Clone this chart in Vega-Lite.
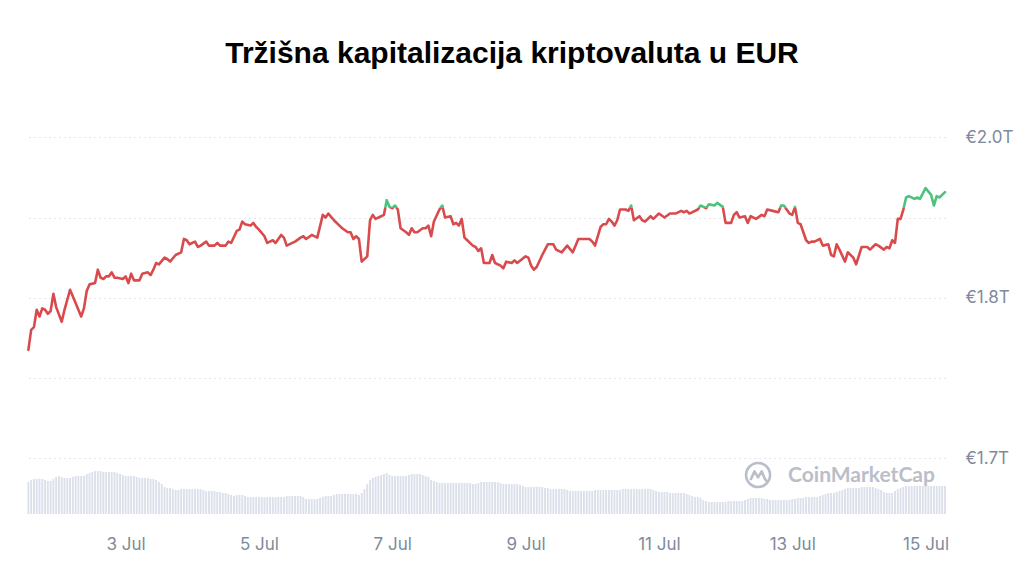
{
  "$schema": "https://vega.github.io/schema/vega-lite/v6.json",
  "width": 918,
  "height": 390,
  "autosize": {"type": "none"},
  "padding": {"left": 27, "top": 124, "right": 79, "bottom": 54},
  "background": "white",
  "title": {
    "text": "Tržišna kapitalizacija kriptovaluta u EUR",
    "font": "Liberation Sans",
    "fontSize": 30,
    "fontWeight": "bold",
    "color": "#000000",
    "anchor": "middle",
    "baseline": "alphabetic",
    "offset": 31,
    "dx": 26
  },
  "datasets": {
    "kap": [
      {"t":"2024-07-01T13:00","kap":1.801},{"t":"2024-07-01T14:00","kap":1.816},{"t":"2024-07-01T15:00","kap":1.818},
      {"t":"2024-07-01T16:00","kap":1.831},{"t":"2024-07-01T17:00","kap":1.826},{"t":"2024-07-01T18:00","kap":1.832},
      {"t":"2024-07-01T19:00","kap":1.831},{"t":"2024-07-01T20:00","kap":1.828},{"t":"2024-07-01T21:00","kap":1.830},
      {"t":"2024-07-01T22:00","kap":1.843},{"t":"2024-07-01T23:00","kap":1.833},{"t":"2024-07-02T01:00","kap":1.822},
      {"t":"2024-07-02T02:00","kap":1.831},{"t":"2024-07-02T04:00","kap":1.846},{"t":"2024-07-02T06:00","kap":1.836},
      {"t":"2024-07-02T08:00","kap":1.826},{"t":"2024-07-02T09:00","kap":1.832},{"t":"2024-07-02T10:00","kap":1.845},
      {"t":"2024-07-02T11:00","kap":1.850},{"t":"2024-07-02T13:00","kap":1.851},{"t":"2024-07-02T14:00","kap":1.861},
      {"t":"2024-07-02T15:00","kap":1.855},{"t":"2024-07-02T16:00","kap":1.854},{"t":"2024-07-02T17:00","kap":1.856},
      {"t":"2024-07-02T18:00","kap":1.856},{"t":"2024-07-02T19:00","kap":1.859},{"t":"2024-07-02T20:00","kap":1.855},
      {"t":"2024-07-02T21:00","kap":1.855},{"t":"2024-07-02T23:00","kap":1.854},{"t":"2024-07-03T00:00","kap":1.856},
      {"t":"2024-07-03T01:00","kap":1.851},{"t":"2024-07-03T02:00","kap":1.858},{"t":"2024-07-03T03:00","kap":1.853},
      {"t":"2024-07-03T05:00","kap":1.853},{"t":"2024-07-03T06:00","kap":1.858},{"t":"2024-07-03T08:00","kap":1.859},
      {"t":"2024-07-03T09:00","kap":1.857},{"t":"2024-07-03T10:00","kap":1.861},{"t":"2024-07-03T11:00","kap":1.866},
      {"t":"2024-07-03T12:00","kap":1.865},{"t":"2024-07-03T14:00","kap":1.870},{"t":"2024-07-03T15:00","kap":1.869},
      {"t":"2024-07-03T16:00","kap":1.867},{"t":"2024-07-03T18:00","kap":1.872},{"t":"2024-07-03T20:00","kap":1.874},
      {"t":"2024-07-03T21:00","kap":1.884},{"t":"2024-07-03T22:00","kap":1.883},{"t":"2024-07-03T23:00","kap":1.880},
      {"t":"2024-07-04T01:00","kap":1.882},{"t":"2024-07-04T02:00","kap":1.878},{"t":"2024-07-04T03:00","kap":1.879},
      {"t":"2024-07-04T05:00","kap":1.882},{"t":"2024-07-04T06:00","kap":1.879},{"t":"2024-07-04T08:00","kap":1.879},
      {"t":"2024-07-04T09:00","kap":1.881},{"t":"2024-07-04T10:00","kap":1.879},{"t":"2024-07-04T12:00","kap":1.879},
      {"t":"2024-07-04T13:00","kap":1.882},{"t":"2024-07-04T14:00","kap":1.881},{"t":"2024-07-04T16:00","kap":1.890},
      {"t":"2024-07-04T17:00","kap":1.891},{"t":"2024-07-04T18:00","kap":1.897},{"t":"2024-07-04T19:00","kap":1.895},
      {"t":"2024-07-04T21:00","kap":1.894},{"t":"2024-07-04T22:00","kap":1.896},{"t":"2024-07-04T23:00","kap":1.893},
      {"t":"2024-07-05T00:00","kap":1.891},{"t":"2024-07-05T02:00","kap":1.886},{"t":"2024-07-05T03:00","kap":1.881},
      {"t":"2024-07-05T05:00","kap":1.883},{"t":"2024-07-05T06:00","kap":1.881},{"t":"2024-07-05T08:00","kap":1.887},
      {"t":"2024-07-05T09:00","kap":1.885},{"t":"2024-07-05T10:00","kap":1.879},{"t":"2024-07-05T12:00","kap":1.881},
      {"t":"2024-07-05T13:00","kap":1.882},{"t":"2024-07-05T15:00","kap":1.885},{"t":"2024-07-05T16:00","kap":1.886},
      {"t":"2024-07-05T17:00","kap":1.884},{"t":"2024-07-05T19:00","kap":1.887},{"t":"2024-07-05T21:00","kap":1.885},
      {"t":"2024-07-05T23:00","kap":1.902},{"t":"2024-07-06T00:00","kap":1.900},{"t":"2024-07-06T01:00","kap":1.903},
      {"t":"2024-07-06T03:00","kap":1.898},{"t":"2024-07-06T05:00","kap":1.894},{"t":"2024-07-06T06:00","kap":1.892},
      {"t":"2024-07-06T08:00","kap":1.889},{"t":"2024-07-06T09:00","kap":1.889},{"t":"2024-07-06T10:00","kap":1.884},
      {"t":"2024-07-06T11:00","kap":1.886},{"t":"2024-07-06T12:00","kap":1.884},{"t":"2024-07-06T13:00","kap":1.867},
      {"t":"2024-07-06T15:00","kap":1.871},{"t":"2024-07-06T16:00","kap":1.898},{"t":"2024-07-06T17:00","kap":1.902},
      {"t":"2024-07-06T18:00","kap":1.899},{"t":"2024-07-06T20:00","kap":1.901},{"t":"2024-07-06T21:00","kap":1.902},
      {"t":"2024-07-06T22:00","kap":1.913},{"t":"2024-07-06T23:00","kap":1.908},{"t":"2024-07-07T00:00","kap":1.907},
      {"t":"2024-07-07T01:00","kap":1.909},{"t":"2024-07-07T02:00","kap":1.906},{"t":"2024-07-07T03:00","kap":1.892},
      {"t":"2024-07-07T05:00","kap":1.889},{"t":"2024-07-07T06:00","kap":1.887},{"t":"2024-07-07T07:00","kap":1.892},
      {"t":"2024-07-07T08:00","kap":1.889},{"t":"2024-07-07T09:00","kap":1.889},{"t":"2024-07-07T11:00","kap":1.892},
      {"t":"2024-07-07T12:00","kap":1.892},{"t":"2024-07-07T13:00","kap":1.894},{"t":"2024-07-07T14:00","kap":1.886},
      {"t":"2024-07-07T15:00","kap":1.897},{"t":"2024-07-07T17:00","kap":1.906},{"t":"2024-07-07T18:00","kap":1.909},
      {"t":"2024-07-07T19:00","kap":1.900},{"t":"2024-07-07T21:00","kap":1.901},{"t":"2024-07-07T22:00","kap":1.895},
      {"t":"2024-07-07T23:00","kap":1.896},{"t":"2024-07-08T00:00","kap":1.894},{"t":"2024-07-08T01:00","kap":1.899},
      {"t":"2024-07-08T02:00","kap":1.885},{"t":"2024-07-08T03:00","kap":1.883},{"t":"2024-07-08T05:00","kap":1.879},
      {"t":"2024-07-08T06:00","kap":1.878},{"t":"2024-07-08T07:00","kap":1.875},{"t":"2024-07-08T08:00","kap":1.877},
      {"t":"2024-07-08T09:00","kap":1.866},{"t":"2024-07-08T11:00","kap":1.866},{"t":"2024-07-08T12:00","kap":1.872},
      {"t":"2024-07-08T13:00","kap":1.866},{"t":"2024-07-08T15:00","kap":1.864},{"t":"2024-07-08T16:00","kap":1.862},
      {"t":"2024-07-08T17:00","kap":1.867},{"t":"2024-07-08T19:00","kap":1.866},{"t":"2024-07-08T20:00","kap":1.868},
      {"t":"2024-07-08T21:00","kap":1.866},{"t":"2024-07-09T00:00","kap":1.871},{"t":"2024-07-09T01:00","kap":1.870},
      {"t":"2024-07-09T02:00","kap":1.864},{"t":"2024-07-09T03:00","kap":1.861},{"t":"2024-07-09T04:00","kap":1.863},
      {"t":"2024-07-09T06:00","kap":1.872},{"t":"2024-07-09T07:00","kap":1.876},{"t":"2024-07-09T08:00","kap":1.880},
      {"t":"2024-07-09T10:00","kap":1.880},{"t":"2024-07-09T11:00","kap":1.876},{"t":"2024-07-09T13:00","kap":1.874},
      {"t":"2024-07-09T15:00","kap":1.879},{"t":"2024-07-09T17:00","kap":1.874},{"t":"2024-07-09T19:00","kap":1.884},
      {"t":"2024-07-09T21:00","kap":1.884},{"t":"2024-07-09T23:00","kap":1.884},{"t":"2024-07-10T00:00","kap":1.882},
      {"t":"2024-07-10T01:00","kap":1.879},{"t":"2024-07-10T03:00","kap":1.893},{"t":"2024-07-10T04:00","kap":1.895},
      {"t":"2024-07-10T05:00","kap":1.895},{"t":"2024-07-10T06:00","kap":1.899},{"t":"2024-07-10T07:00","kap":1.897},
      {"t":"2024-07-10T08:00","kap":1.894},{"t":"2024-07-10T09:00","kap":1.898},{"t":"2024-07-10T10:00","kap":1.906},
      {"t":"2024-07-10T12:00","kap":1.906},{"t":"2024-07-10T13:00","kap":1.905},{"t":"2024-07-10T14:00","kap":1.909},
      {"t":"2024-07-10T15:00","kap":1.898},{"t":"2024-07-10T17:00","kap":1.901},{"t":"2024-07-10T18:00","kap":1.898},
      {"t":"2024-07-10T19:00","kap":1.897},{"t":"2024-07-10T21:00","kap":1.901},{"t":"2024-07-10T22:00","kap":1.899},
      {"t":"2024-07-11T00:00","kap":1.903},{"t":"2024-07-11T02:00","kap":1.900},{"t":"2024-07-11T04:00","kap":1.903},
      {"t":"2024-07-11T06:00","kap":1.903},{"t":"2024-07-11T08:00","kap":1.905},{"t":"2024-07-11T09:00","kap":1.904},
      {"t":"2024-07-11T10:00","kap":1.905},{"t":"2024-07-11T11:00","kap":1.903},{"t":"2024-07-11T14:00","kap":1.906},
      {"t":"2024-07-11T15:00","kap":1.909},{"t":"2024-07-11T17:00","kap":1.907},{"t":"2024-07-11T18:00","kap":1.910},
      {"t":"2024-07-11T20:00","kap":1.909},{"t":"2024-07-11T21:00","kap":1.911},{"t":"2024-07-11T23:00","kap":1.908},
      {"t":"2024-07-12T00:00","kap":1.896},{"t":"2024-07-12T02:00","kap":1.896},{"t":"2024-07-12T03:00","kap":1.902},
      {"t":"2024-07-12T04:00","kap":1.904},{"t":"2024-07-12T05:00","kap":1.900},{"t":"2024-07-12T07:00","kap":1.901},
      {"t":"2024-07-12T08:00","kap":1.896},{"t":"2024-07-12T09:00","kap":1.901},{"t":"2024-07-12T11:00","kap":1.899},
      {"t":"2024-07-12T13:00","kap":1.902},{"t":"2024-07-12T14:00","kap":1.901},{"t":"2024-07-12T15:00","kap":1.906},
      {"t":"2024-07-12T17:00","kap":1.905},{"t":"2024-07-12T19:00","kap":1.904},{"t":"2024-07-12T20:00","kap":1.909},
      {"t":"2024-07-12T21:00","kap":1.909},{"t":"2024-07-12T23:00","kap":1.903},{"t":"2024-07-13T00:00","kap":1.902},
      {"t":"2024-07-13T01:00","kap":1.908},{"t":"2024-07-13T02:00","kap":1.896},{"t":"2024-07-13T03:00","kap":1.895},
      {"t":"2024-07-13T05:00","kap":1.883},{"t":"2024-07-13T06:00","kap":1.881},{"t":"2024-07-13T07:00","kap":1.882},
      {"t":"2024-07-13T08:00","kap":1.882},{"t":"2024-07-13T10:00","kap":1.884},{"t":"2024-07-13T11:00","kap":1.879},
      {"t":"2024-07-13T13:00","kap":1.880},{"t":"2024-07-13T14:00","kap":1.872},{"t":"2024-07-13T15:00","kap":1.871},
      {"t":"2024-07-13T16:00","kap":1.880},{"t":"2024-07-13T17:00","kap":1.876},{"t":"2024-07-13T19:00","kap":1.867},
      {"t":"2024-07-13T20:00","kap":1.874},{"t":"2024-07-13T22:00","kap":1.870},{"t":"2024-07-13T23:00","kap":1.865},
      {"t":"2024-07-14T01:00","kap":1.878},{"t":"2024-07-14T03:00","kap":1.878},{"t":"2024-07-14T04:00","kap":1.876},
      {"t":"2024-07-14T06:00","kap":1.880},{"t":"2024-07-14T07:00","kap":1.879},{"t":"2024-07-14T09:00","kap":1.876},
      {"t":"2024-07-14T10:00","kap":1.878},{"t":"2024-07-14T11:00","kap":1.877},{"t":"2024-07-14T12:00","kap":1.883},
      {"t":"2024-07-14T13:00","kap":1.881},{"t":"2024-07-14T14:00","kap":1.899},{"t":"2024-07-14T15:00","kap":1.899},
      {"t":"2024-07-14T16:00","kap":1.906},{"t":"2024-07-14T17:00","kap":1.915},{"t":"2024-07-14T18:00","kap":1.916},
      {"t":"2024-07-14T20:00","kap":1.914},{"t":"2024-07-14T21:00","kap":1.915},{"t":"2024-07-14T22:00","kap":1.914},
      {"t":"2024-07-15T00:00","kap":1.922},{"t":"2024-07-15T02:00","kap":1.917},{"t":"2024-07-15T03:00","kap":1.909},
      {"t":"2024-07-15T04:00","kap":1.916},{"t":"2024-07-15T05:00","kap":1.915},{"t":"2024-07-15T07:00","kap":1.919}
    ],
    "vol": [
      {"t":"2024-07-01T13:00","volumen":32},{"t":"2024-07-01T14:00","volumen":34},{"t":"2024-07-01T15:00","volumen":35},{"t":"2024-07-01T16:00","volumen":35},
      {"t":"2024-07-01T17:00","volumen":35},{"t":"2024-07-01T18:00","volumen":35},{"t":"2024-07-01T19:00","volumen":34},{"t":"2024-07-01T20:00","volumen":33},
      {"t":"2024-07-01T21:00","volumen":33},{"t":"2024-07-01T22:00","volumen":35},{"t":"2024-07-01T23:00","volumen":37},
      {"t":"2024-07-02T00:00","volumen":38},{"t":"2024-07-02T01:00","volumen":37},{"t":"2024-07-02T02:00","volumen":36},{"t":"2024-07-02T03:00","volumen":36},
      {"t":"2024-07-02T04:00","volumen":36},{"t":"2024-07-02T05:00","volumen":37},{"t":"2024-07-02T06:00","volumen":38},{"t":"2024-07-02T07:00","volumen":38},
      {"t":"2024-07-02T08:00","volumen":38},{"t":"2024-07-02T09:00","volumen":38},{"t":"2024-07-02T10:00","volumen":40},{"t":"2024-07-02T11:00","volumen":41},
      {"t":"2024-07-02T12:00","volumen":42},{"t":"2024-07-02T13:00","volumen":43},{"t":"2024-07-02T14:00","volumen":43},{"t":"2024-07-02T15:00","volumen":43},
      {"t":"2024-07-02T16:00","volumen":42},{"t":"2024-07-02T17:00","volumen":42},{"t":"2024-07-02T18:00","volumen":42},{"t":"2024-07-02T19:00","volumen":42},
      {"t":"2024-07-02T20:00","volumen":42},{"t":"2024-07-02T21:00","volumen":41},{"t":"2024-07-02T22:00","volumen":40},{"t":"2024-07-02T23:00","volumen":39},
      {"t":"2024-07-03T00:00","volumen":38},{"t":"2024-07-03T01:00","volumen":38},{"t":"2024-07-03T02:00","volumen":38},{"t":"2024-07-03T03:00","volumen":38},
      {"t":"2024-07-03T04:00","volumen":37},{"t":"2024-07-03T05:00","volumen":36},{"t":"2024-07-03T06:00","volumen":36},{"t":"2024-07-03T07:00","volumen":36},
      {"t":"2024-07-03T08:00","volumen":36},{"t":"2024-07-03T09:00","volumen":35},{"t":"2024-07-03T10:00","volumen":35},{"t":"2024-07-03T11:00","volumen":34},
      {"t":"2024-07-03T12:00","volumen":32},{"t":"2024-07-03T13:00","volumen":30},{"t":"2024-07-03T14:00","volumen":27},{"t":"2024-07-03T15:00","volumen":26},
      {"t":"2024-07-03T16:00","volumen":26},{"t":"2024-07-03T17:00","volumen":25},{"t":"2024-07-03T18:00","volumen":24},{"t":"2024-07-03T19:00","volumen":24},
      {"t":"2024-07-03T20:00","volumen":25},{"t":"2024-07-03T21:00","volumen":25},{"t":"2024-07-03T22:00","volumen":25},{"t":"2024-07-03T23:00","volumen":25},
      {"t":"2024-07-04T00:00","volumen":25},{"t":"2024-07-04T01:00","volumen":25},{"t":"2024-07-04T02:00","volumen":25},{"t":"2024-07-04T03:00","volumen":25},
      {"t":"2024-07-04T04:00","volumen":24},{"t":"2024-07-04T05:00","volumen":23},{"t":"2024-07-04T06:00","volumen":23},{"t":"2024-07-04T07:00","volumen":23},
      {"t":"2024-07-04T08:00","volumen":23},{"t":"2024-07-04T09:00","volumen":22},{"t":"2024-07-04T10:00","volumen":22},{"t":"2024-07-04T11:00","volumen":21},
      {"t":"2024-07-04T12:00","volumen":21},{"t":"2024-07-04T13:00","volumen":20},{"t":"2024-07-04T14:00","volumen":19},{"t":"2024-07-04T15:00","volumen":18},
      {"t":"2024-07-04T16:00","volumen":19},{"t":"2024-07-04T17:00","volumen":19},{"t":"2024-07-04T18:00","volumen":19},{"t":"2024-07-04T19:00","volumen":18},
      {"t":"2024-07-04T20:00","volumen":17},{"t":"2024-07-04T21:00","volumen":17},{"t":"2024-07-04T22:00","volumen":17},{"t":"2024-07-04T23:00","volumen":17},
      {"t":"2024-07-05T00:00","volumen":17},{"t":"2024-07-05T01:00","volumen":17},{"t":"2024-07-05T02:00","volumen":17},{"t":"2024-07-05T03:00","volumen":17},
      {"t":"2024-07-05T04:00","volumen":17},{"t":"2024-07-05T05:00","volumen":17},{"t":"2024-07-05T06:00","volumen":17},{"t":"2024-07-05T07:00","volumen":17},
      {"t":"2024-07-05T08:00","volumen":17},{"t":"2024-07-05T09:00","volumen":17},{"t":"2024-07-05T10:00","volumen":18},{"t":"2024-07-05T11:00","volumen":18},
      {"t":"2024-07-05T12:00","volumen":18},{"t":"2024-07-05T13:00","volumen":18},{"t":"2024-07-05T14:00","volumen":18},{"t":"2024-07-05T15:00","volumen":18},
      {"t":"2024-07-05T16:00","volumen":17},{"t":"2024-07-05T17:00","volumen":15},{"t":"2024-07-05T18:00","volumen":15},{"t":"2024-07-05T19:00","volumen":15},
      {"t":"2024-07-05T20:00","volumen":15},{"t":"2024-07-05T21:00","volumen":15},{"t":"2024-07-05T22:00","volumen":16},{"t":"2024-07-05T23:00","volumen":17},
      {"t":"2024-07-06T00:00","volumen":18},{"t":"2024-07-06T01:00","volumen":18},{"t":"2024-07-06T02:00","volumen":18},{"t":"2024-07-06T03:00","volumen":19},
      {"t":"2024-07-06T04:00","volumen":20},{"t":"2024-07-06T05:00","volumen":20},{"t":"2024-07-06T06:00","volumen":20},{"t":"2024-07-06T07:00","volumen":20},
      {"t":"2024-07-06T08:00","volumen":20},{"t":"2024-07-06T09:00","volumen":20},{"t":"2024-07-06T10:00","volumen":20},{"t":"2024-07-06T11:00","volumen":20},
      {"t":"2024-07-06T12:00","volumen":19},{"t":"2024-07-06T13:00","volumen":21},{"t":"2024-07-06T14:00","volumen":25},{"t":"2024-07-06T15:00","volumen":30},
      {"t":"2024-07-06T16:00","volumen":34},{"t":"2024-07-06T17:00","volumen":36},{"t":"2024-07-06T18:00","volumen":37},{"t":"2024-07-06T19:00","volumen":38},
      {"t":"2024-07-06T20:00","volumen":39},{"t":"2024-07-06T21:00","volumen":40},{"t":"2024-07-06T22:00","volumen":41},{"t":"2024-07-06T23:00","volumen":39},
      {"t":"2024-07-07T00:00","volumen":38},{"t":"2024-07-07T01:00","volumen":38},{"t":"2024-07-07T02:00","volumen":38},{"t":"2024-07-07T03:00","volumen":38},
      {"t":"2024-07-07T04:00","volumen":38},{"t":"2024-07-07T05:00","volumen":38},{"t":"2024-07-07T06:00","volumen":39},{"t":"2024-07-07T07:00","volumen":40},
      {"t":"2024-07-07T08:00","volumen":40},{"t":"2024-07-07T09:00","volumen":40},{"t":"2024-07-07T10:00","volumen":40},{"t":"2024-07-07T11:00","volumen":39},
      {"t":"2024-07-07T12:00","volumen":38},{"t":"2024-07-07T13:00","volumen":37},{"t":"2024-07-07T14:00","volumen":34},{"t":"2024-07-07T15:00","volumen":33},
      {"t":"2024-07-07T16:00","volumen":32},{"t":"2024-07-07T17:00","volumen":31},{"t":"2024-07-07T18:00","volumen":31},{"t":"2024-07-07T19:00","volumen":31},
      {"t":"2024-07-07T20:00","volumen":31},{"t":"2024-07-07T21:00","volumen":31},{"t":"2024-07-07T22:00","volumen":31},{"t":"2024-07-07T23:00","volumen":31},
      {"t":"2024-07-08T00:00","volumen":31},{"t":"2024-07-08T01:00","volumen":31},{"t":"2024-07-08T02:00","volumen":31},{"t":"2024-07-08T03:00","volumen":31},
      {"t":"2024-07-08T04:00","volumen":31},{"t":"2024-07-08T05:00","volumen":30},{"t":"2024-07-08T06:00","volumen":30},{"t":"2024-07-08T07:00","volumen":31},
      {"t":"2024-07-08T08:00","volumen":32},{"t":"2024-07-08T09:00","volumen":32},{"t":"2024-07-08T10:00","volumen":32},{"t":"2024-07-08T11:00","volumen":32},
      {"t":"2024-07-08T12:00","volumen":32},{"t":"2024-07-08T13:00","volumen":32},{"t":"2024-07-08T14:00","volumen":32},{"t":"2024-07-08T15:00","volumen":31},
      {"t":"2024-07-08T16:00","volumen":30},{"t":"2024-07-08T17:00","volumen":30},{"t":"2024-07-08T18:00","volumen":30},{"t":"2024-07-08T19:00","volumen":30},
      {"t":"2024-07-08T20:00","volumen":30},{"t":"2024-07-08T21:00","volumen":30},{"t":"2024-07-08T22:00","volumen":29},{"t":"2024-07-08T23:00","volumen":28},
      {"t":"2024-07-09T00:00","volumen":27},{"t":"2024-07-09T01:00","volumen":27},{"t":"2024-07-09T02:00","volumen":27},{"t":"2024-07-09T03:00","volumen":27},
      {"t":"2024-07-09T04:00","volumen":27},{"t":"2024-07-09T05:00","volumen":27},{"t":"2024-07-09T06:00","volumen":27},{"t":"2024-07-09T07:00","volumen":26},
      {"t":"2024-07-09T08:00","volumen":26},{"t":"2024-07-09T09:00","volumen":25},{"t":"2024-07-09T10:00","volumen":25},{"t":"2024-07-09T11:00","volumen":25},
      {"t":"2024-07-09T12:00","volumen":25},{"t":"2024-07-09T13:00","volumen":25},{"t":"2024-07-09T14:00","volumen":25},{"t":"2024-07-09T15:00","volumen":24},
      {"t":"2024-07-09T16:00","volumen":23},{"t":"2024-07-09T17:00","volumen":23},{"t":"2024-07-09T18:00","volumen":23},{"t":"2024-07-09T19:00","volumen":23},
      {"t":"2024-07-09T20:00","volumen":23},{"t":"2024-07-09T21:00","volumen":23},{"t":"2024-07-09T22:00","volumen":23},{"t":"2024-07-09T23:00","volumen":23},
      {"t":"2024-07-10T00:00","volumen":23},{"t":"2024-07-10T01:00","volumen":24},{"t":"2024-07-10T02:00","volumen":24},{"t":"2024-07-10T03:00","volumen":24},
      {"t":"2024-07-10T04:00","volumen":24},{"t":"2024-07-10T05:00","volumen":24},{"t":"2024-07-10T06:00","volumen":24},{"t":"2024-07-10T07:00","volumen":24},
      {"t":"2024-07-10T08:00","volumen":24},{"t":"2024-07-10T09:00","volumen":24},{"t":"2024-07-10T10:00","volumen":24},{"t":"2024-07-10T11:00","volumen":25},
      {"t":"2024-07-10T12:00","volumen":25},{"t":"2024-07-10T13:00","volumen":25},{"t":"2024-07-10T14:00","volumen":25},{"t":"2024-07-10T15:00","volumen":25},
      {"t":"2024-07-10T16:00","volumen":25},{"t":"2024-07-10T17:00","volumen":25},{"t":"2024-07-10T18:00","volumen":25},{"t":"2024-07-10T19:00","volumen":25},
      {"t":"2024-07-10T20:00","volumen":25},{"t":"2024-07-10T21:00","volumen":25},{"t":"2024-07-10T22:00","volumen":24},{"t":"2024-07-10T23:00","volumen":23},
      {"t":"2024-07-11T00:00","volumen":22},{"t":"2024-07-11T01:00","volumen":22},{"t":"2024-07-11T02:00","volumen":22},{"t":"2024-07-11T03:00","volumen":22},
      {"t":"2024-07-11T04:00","volumen":21},{"t":"2024-07-11T05:00","volumen":21},{"t":"2024-07-11T06:00","volumen":21},{"t":"2024-07-11T07:00","volumen":21},
      {"t":"2024-07-11T08:00","volumen":21},{"t":"2024-07-11T09:00","volumen":21},{"t":"2024-07-11T10:00","volumen":20},{"t":"2024-07-11T11:00","volumen":19},
      {"t":"2024-07-11T12:00","volumen":18},{"t":"2024-07-11T13:00","volumen":17},{"t":"2024-07-11T14:00","volumen":17},{"t":"2024-07-11T15:00","volumen":16},
      {"t":"2024-07-11T16:00","volumen":14},{"t":"2024-07-11T17:00","volumen":13},{"t":"2024-07-11T18:00","volumen":12},{"t":"2024-07-11T19:00","volumen":12},
      {"t":"2024-07-11T20:00","volumen":12},{"t":"2024-07-11T21:00","volumen":12},{"t":"2024-07-11T22:00","volumen":12},{"t":"2024-07-11T23:00","volumen":12},
      {"t":"2024-07-12T00:00","volumen":12},{"t":"2024-07-12T01:00","volumen":13},{"t":"2024-07-12T02:00","volumen":13},{"t":"2024-07-12T03:00","volumen":13},
      {"t":"2024-07-12T04:00","volumen":13},{"t":"2024-07-12T05:00","volumen":13},{"t":"2024-07-12T06:00","volumen":13},{"t":"2024-07-12T07:00","volumen":14},
      {"t":"2024-07-12T08:00","volumen":15},{"t":"2024-07-12T09:00","volumen":16},{"t":"2024-07-12T10:00","volumen":16},{"t":"2024-07-12T11:00","volumen":16},
      {"t":"2024-07-12T12:00","volumen":16},{"t":"2024-07-12T13:00","volumen":16},{"t":"2024-07-12T14:00","volumen":15},{"t":"2024-07-12T15:00","volumen":15},
      {"t":"2024-07-12T16:00","volumen":14},{"t":"2024-07-12T17:00","volumen":14},{"t":"2024-07-12T18:00","volumen":14},{"t":"2024-07-12T19:00","volumen":14},
      {"t":"2024-07-12T20:00","volumen":14},{"t":"2024-07-12T21:00","volumen":14},{"t":"2024-07-12T22:00","volumen":14},{"t":"2024-07-12T23:00","volumen":14},
      {"t":"2024-07-13T00:00","volumen":15},{"t":"2024-07-13T01:00","volumen":15},{"t":"2024-07-13T02:00","volumen":16},{"t":"2024-07-13T03:00","volumen":16},
      {"t":"2024-07-13T04:00","volumen":16},{"t":"2024-07-13T05:00","volumen":17},{"t":"2024-07-13T06:00","volumen":17},{"t":"2024-07-13T07:00","volumen":17},
      {"t":"2024-07-13T08:00","volumen":17},{"t":"2024-07-13T09:00","volumen":17},{"t":"2024-07-13T10:00","volumen":18},{"t":"2024-07-13T11:00","volumen":19},
      {"t":"2024-07-13T12:00","volumen":20},{"t":"2024-07-13T13:00","volumen":21},{"t":"2024-07-13T14:00","volumen":21},{"t":"2024-07-13T15:00","volumen":21},
      {"t":"2024-07-13T16:00","volumen":22},{"t":"2024-07-13T17:00","volumen":23},{"t":"2024-07-13T18:00","volumen":24},{"t":"2024-07-13T19:00","volumen":25},
      {"t":"2024-07-13T20:00","volumen":26},{"t":"2024-07-13T21:00","volumen":26},{"t":"2024-07-13T22:00","volumen":26},{"t":"2024-07-13T23:00","volumen":26},
      {"t":"2024-07-14T00:00","volumen":26},{"t":"2024-07-14T01:00","volumen":27},{"t":"2024-07-14T02:00","volumen":27},{"t":"2024-07-14T03:00","volumen":27},
      {"t":"2024-07-14T04:00","volumen":27},{"t":"2024-07-14T05:00","volumen":27},{"t":"2024-07-14T06:00","volumen":26},{"t":"2024-07-14T07:00","volumen":25},
      {"t":"2024-07-14T08:00","volumen":24},{"t":"2024-07-14T09:00","volumen":22},{"t":"2024-07-14T10:00","volumen":21},{"t":"2024-07-14T11:00","volumen":21},
      {"t":"2024-07-14T12:00","volumen":21},{"t":"2024-07-14T13:00","volumen":23},{"t":"2024-07-14T14:00","volumen":25},{"t":"2024-07-14T15:00","volumen":26},
      {"t":"2024-07-14T16:00","volumen":27},{"t":"2024-07-14T17:00","volumen":28},{"t":"2024-07-14T18:00","volumen":28},{"t":"2024-07-14T19:00","volumen":28},
      {"t":"2024-07-14T20:00","volumen":28},{"t":"2024-07-14T21:00","volumen":28},{"t":"2024-07-14T22:00","volumen":28},{"t":"2024-07-14T23:00","volumen":28},
      {"t":"2024-07-15T00:00","volumen":28},{"t":"2024-07-15T01:00","volumen":28},{"t":"2024-07-15T02:00","volumen":28},{"t":"2024-07-15T03:00","volumen":28},
      {"t":"2024-07-15T04:00","volumen":28},{"t":"2024-07-15T05:00","volumen":28},{"t":"2024-07-15T06:00","volumen":28},{"t":"2024-07-15T07:00","volumen":28}
    ]
  },
  "layer": [
    {
      "data": {"name": "vol"},
      "mark": {"type": "bar", "width": 1.9, "color": "#dbe0ea"},
      "encoding": {
        "x": {
          "field": "t", "type": "temporal",
          "scale": {"domain": [{"year": 2024, "month": 7, "date": 1, "hours": 12, "minutes": 30}, {"year": 2024, "month": 7, "date": 15, "hours": 7}], "padding": 0},
          "axis": {
            "values": [{"year": 2024, "month": 7, "date": 3}, {"year": 2024, "month": 7, "date": 5}, {"year": 2024, "month": 7, "date": 7}, {"year": 2024, "month": 7, "date": 9}, {"year": 2024, "month": 7, "date": 11}, {"year": 2024, "month": 7, "date": 13}, {"year": 2024, "month": 7, "date": 15}],
            "format": "%-d %b", "grid": false, "domain": false, "ticks": false, "tickSize": 0, "labelPadding": 22, "title": null
          }
        },
        "y": {"field": "volumen", "type": "quantitative", "scale": {"domain": [0, 390], "nice": false}, "axis": null}
      }
    },
    {
      "layer": [
        {
          "data": {"name": "kap"},
          "mark": {
            "type": "line",
            "strokeWidth": 2.6,
            "strokeJoin": "round",
            "strokeCap": "round",
            "color": {
              "gradient": "linear", "x1": 0, "y1": 0, "x2": 0, "y2": 1,
              "stops": [
                {"offset": 0, "color": "#4cc27c"},
                {"offset": 0.124, "color": "#4cc27c"},
                {"offset": 0.124, "color": "#d94a4c"},
                {"offset": 1, "color": "#d94a4c"}
              ]
            }
          },
          "encoding": {
            "x": {
              "field": "t", "type": "temporal",
              "scale": {"domain": [{"year": 2024, "month": 7, "date": 1, "hours": 12, "minutes": 30}, {"year": 2024, "month": 7, "date": 15, "hours": 7}], "padding": 0},
              "axis": {
                "values": [{"year": 2024, "month": 7, "date": 3}, {"year": 2024, "month": 7, "date": 5}, {"year": 2024, "month": 7, "date": 7}, {"year": 2024, "month": 7, "date": 9}, {"year": 2024, "month": 7, "date": 11}, {"year": 2024, "month": 7, "date": 13}, {"year": 2024, "month": 7, "date": 15}],
                "format": "%-d %b", "grid": false, "domain": false, "ticks": false, "tickSize": 0, "labelPadding": 22, "title": null
              }
            },
            "y": {
              "field": "kap", "type": "quantitative",
              "scale": {"domain": [1.6782, 1.97], "nice": false, "zero": false},
              "axis": {
                "orient": "right",
                "values": [1.72, 1.78, 1.84, 1.9, 1.96],
                "grid": true, "gridDash": [1, 4], "gridColor": "#c8cdd6", "gridWidth": 1,
                "domain": false, "ticks": false, "labelPadding": 20, "title": null,
                "labelBaseline": "middle",
                "labelExpr": "abs(datum.value - 1.78) < 0.001 || abs(datum.value - 1.9) < 0.001 ? '' : '€' + format(datum.value, '.1f') + 'T'"
              }
            }
          }
        },
        {
          "data": {"values": [{}]},
          "mark": {"type": "point", "shape": "circle", "size": 576, "filled": false, "stroke": "#b9bec9", "strokeWidth": 2.6, "opacity": 1},
          "encoding": {
            "x": {"datum": {"year": 2024, "month": 7, "date": 12, "hours": 11, "minutes": 42}, "type": "temporal"},
            "y": {"datum": 1.7074, "type": "quantitative"}
          }
        },
        {
          "data": {"values": [{}]},
          "mark": {"type": "point", "shape": "M-0.6,0.35 L-0.3,-0.3 L0,0.2 L0.3,-0.3 L0.55,0.3 L0.75,0.55", "size": 576, "filled": false, "stroke": "#b9bec9", "strokeWidth": 2.6, "strokeJoin": "round", "strokeCap": "round", "opacity": 1},
          "encoding": {
            "x": {"datum": {"year": 2024, "month": 7, "date": 12, "hours": 11, "minutes": 42}, "type": "temporal"},
            "y": {"datum": 1.7074, "type": "quantitative"}
          }
        },
        {
          "data": {"values": [{}]},
          "mark": {"type": "text", "text": "CoinMarketCap", "font": "Lato", "fontSize": 21, "fontWeight": "bold", "color": "#b9bec9", "align": "left", "baseline": "middle"},
          "encoding": {
            "x": {"datum": {"year": 2024, "month": 7, "date": 12, "hours": 22, "minutes": 30}, "type": "temporal"},
            "y": {"datum": 1.7066, "type": "quantitative"}
          }
        }
      ]
    }
  ],
  "resolve": {"scale": {"y": "independent"}},
  "config": {
    "view": {"stroke": null},
    "axis": {"labelFont": "Inter", "labelFontSize": 17, "labelColor": "#808a9d"}
  }
}
